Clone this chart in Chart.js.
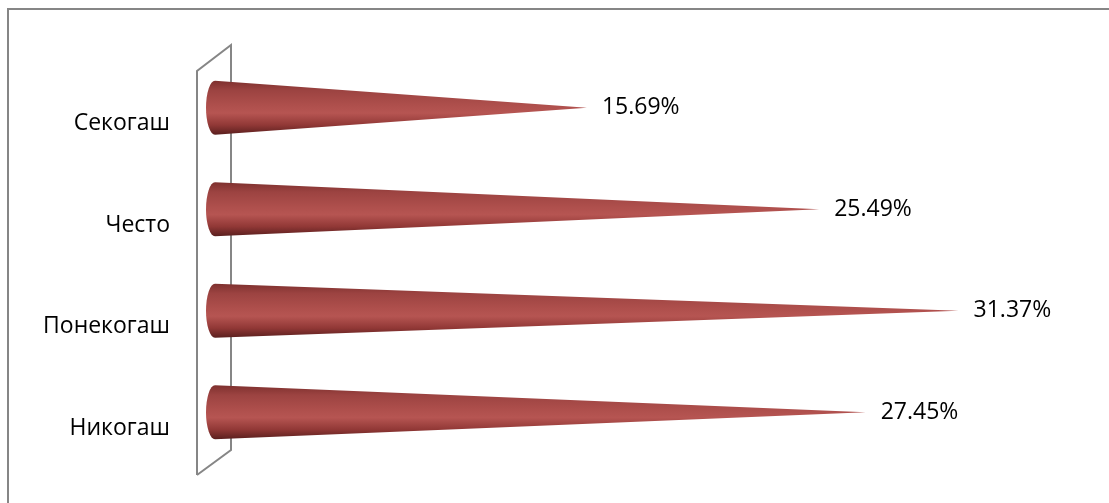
<!DOCTYPE html>
<html>
<head>
<meta charset="utf-8">
<script src="https://cdn.jsdelivr.net/npm/chart.js@4/dist/chart.umd.min.js"></script>
<style>
  html, body { margin: 0; padding: 0; background: #ffffff; }
  canvas { display: block; }
</style>
</head>
<body>
<canvas id="chart" width="1109" height="503"></canvas>
<script>
// Survey answers and their shares (percent)
const categories = ['Секогаш', 'Често', 'Понекогаш', 'Никогаш'];
const shares = [15.69, 25.49, 31.37, 27.45];

const FONT = '"Open Sans", "DejaVu Sans", sans-serif';
const FONT_SIZE = 23;
const GRID_GRAY = '#868686';

// Outer frame of the chart object
const framePlugin = {
  id: 'frame',
  beforeDraw(chart) {
    const ctx = chart.ctx;
    ctx.save();
    ctx.fillStyle = '#ffffff';
    ctx.fillRect(0, 0, chart.width, chart.height);
    ctx.strokeStyle = GRID_GRAY;
    ctx.lineWidth = 2;
    ctx.strokeRect(8, 9, chart.width + 20, chart.height + 20);
    ctx.restore();
  }
};

// Thin 3D side wall standing behind the cone bases
const wallPlugin = {
  id: 'wall',
  beforeDatasetsDraw(chart) {
    const { ctx, chartArea } = chart;
    const zero = chart.scales.x.getPixelForValue(0);
    const fx = zero - 18, bx = zero + 16;
    const fTop = chartArea.top + 14, bTop = chartArea.top - 12;
    const fBot = chartArea.bottom + 12, bBot = chartArea.bottom - 13;
    ctx.save();
    ctx.strokeStyle = GRID_GRAY;
    ctx.lineWidth = 2;
    ctx.lineJoin = 'miter';
    ctx.beginPath();
    ctx.moveTo(fx, fBot);
    ctx.lineTo(fx, fTop);
    ctx.lineTo(bx, bTop);
    ctx.lineTo(bx, bBot);
    ctx.lineTo(fx, fBot);
    ctx.stroke();
    ctx.restore();
  }
};

// Each bar is rendered as a horizontal cone lying along its bar
const conePlugin = {
  id: 'cones',
  afterDatasetsDraw(chart) {
    const ctx = chart.ctx;
    const meta = chart.getDatasetMeta(0);
    meta.data.forEach((bar, i) => {
      const x = bar.x, y = bar.y, base = bar.base, h = bar.height / 2;
      const rx = 9;
      const g = ctx.createLinearGradient(0, y - h, 0, y + h);
      g.addColorStop(0.00, '#7e302e');
      g.addColorStop(0.18, '#9c4341');
      g.addColorStop(0.45, '#ae4f4c');
      g.addColorStop(0.60, '#b65552');
      g.addColorStop(0.82, '#913836');
      g.addColorStop(1.00, '#5a1f1e');
      ctx.save();
      ctx.beginPath();
      ctx.moveTo(base, y - h);
      ctx.lineTo(x, y);
      ctx.lineTo(base, y + h);
      ctx.ellipse(base, y, rx, h, 0, Math.PI / 2, Math.PI * 1.5);
      ctx.closePath();
      ctx.fillStyle = g;
      ctx.fill();
      ctx.restore();

      // value label just past the cone tip
      ctx.save();
      ctx.font = FONT_SIZE + 'px ' + FONT;
      ctx.fillStyle = '#000000';
      ctx.textAlign = 'left';
      ctx.textBaseline = 'middle';
      ctx.fillText(shares[i].toFixed(2) + '%', x + 15, y);
      ctx.restore();
    });
  }
};

new Chart(document.getElementById('chart'), {
  type: 'bar',
  data: {
    labels: categories,
    datasets: [{
      data: shares,
      backgroundColor: 'rgba(0,0,0,0)',
      borderWidth: 0,
      categoryPercentage: 1,
      barThickness: 54
    }]
  },
  options: {
    indexAxis: 'y',
    responsive: false,
    animation: false,
    layout: { padding: { left: 0, right: 17, top: 57, bottom: 40 } },
    plugins: {
      legend: { display: false },
      tooltip: { enabled: false }
    },
    scales: {
      x: {
        display: false,
        min: 0,
        max: 37
      },
      y: {
        afterFit(scale) {
          scale.width = 215;
          scale.paddingTop = 0;
          scale.paddingBottom = 0;
        },
        grid: { display: false, drawTicks: false },
        border: { display: false },
        ticks: {
          padding: 45,
          labelOffset: 16,
          color: '#000000',
          font: { family: FONT, size: FONT_SIZE }
        }
      }
    }
  },
  plugins: [framePlugin, wallPlugin, conePlugin]
});
</script>
</body>
</html>
